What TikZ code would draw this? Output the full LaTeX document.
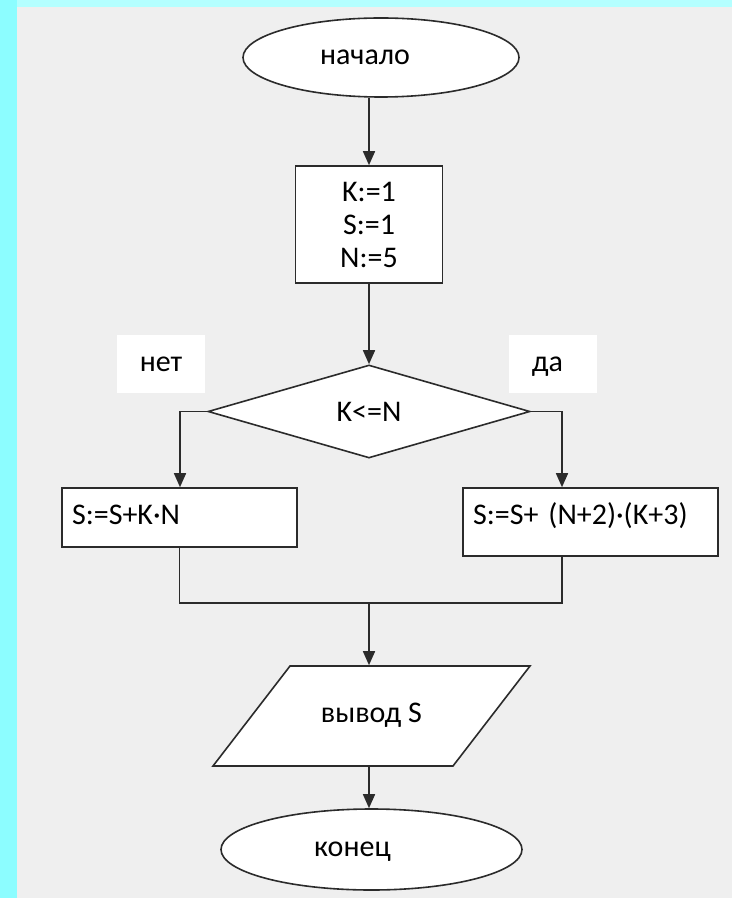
\documentclass[tikz,border=0pt]{standalone}
\usepackage{fontspec}
\setmainfont{Carlito}
\usetikzlibrary{shapes.geometric,arrows.meta}
\definecolor{frame}{HTML}{8CFDFF}
\definecolor{frametop}{HTML}{B4FFFF}
\definecolor{sheet}{HTML}{EFEFEF}
\definecolor{ink}{HTML}{2B2B2B}

\begin{document}
\begin{tikzpicture}[x=0.5pt, y=-0.5pt, font=\fontsize{15}{16.5}\selectfont]
	\tikzset{terminal/.style = {draw=ink, ellipse, fill=white, inner sep=0pt,
	text height=10pt, text depth=3pt, line width=0.8pt},
	process/.style = {draw=ink, rectangle, fill=white, inner sep=0pt,
	line width=0.8pt},
	decision/.style = {draw=ink, diamond, fill=white, inner sep=0pt,
	line width=0.8pt},
	io/.style = {draw=ink, trapezium, trapezium left angle=52.4,
	trapezium right angle=127.6, trapezium stretches body=true, fill=white,
	inner sep=0pt, line width=0.8pt},
	answer/.style = {fill=white, inner sep=0pt, minimum width=44pt,
	minimum height=29pt, text height=10pt, text depth=3pt},
	wire/.style = {draw=ink, line width=0.8pt},
	flow/.style = {wire, -{Triangle[length=7pt, width=6pt]}}}
	
	\fill[frame] (0,0) rectangle (732,898);
	\fill[frametop] (17,0) rectangle (732,7);
	\fill[sheet] (17,7) rectangle (732,898);
	\useasboundingbox (0,0) rectangle (732,898);
	
	\node[terminal, minimum width=138pt, minimum height=39.5pt] (start)
	at (381, 57.5) {начало\kern16pt};
	\node[process, minimum width=73.5pt, minimum height=58.5pt,
	align=center] (init) at (369, 224.5) {K:=1\\S:=1\\N:=5};
	\node[answer] (no_label) at (161, 364) {нет};
	\node[answer] (yes_label) at (552.5, 364) {да\kern5pt};
	\node[decision, minimum width=161pt, minimum height=46.5pt] (check)
	at (369, 411.5) {K<=N};
	\node[process, text width=107.5pt, align=left, inner xsep=5pt,
	text height=18pt, text depth=11.5pt] (sum_no) at (179.5, 517.5)
	{S:=S+K·N};
	\node[process, text width=117.5pt, align=left, inner xsep=5pt,
	text height=18pt, text depth=16pt] (sum_yes) at (590.5, 522)
	{S:=S+ (N+2)·(K+3)};
	\node[io, minimum width=158.5pt, text height=28pt, text depth=22pt]
	(output) at (371.5, 716) {вывод S};
	\node[terminal, minimum width=150.5pt, minimum height=40.5pt] (stop)
	at (371.5, 849.5) {конец\kern19pt};
	
	\coordinate (no_turn) at (180, 411.5);
	\coordinate (yes_turn) at (562, 411.5);
	\coordinate (join) at (369, 603);
	
	\draw[flow] (start.south -| init.north) -- (init.north);
	\draw[flow] (init.south) -- (check.north);
	\draw[flow] (check.west) -- (no_turn) -- (no_turn |- sum_no.north);
	\draw[flow] (check.east) -- (yes_turn) -- (yes_turn |- sum_yes.north);
	\draw[wire] (sum_no.south) |- (join);
	\draw[wire] (yes_turn |- sum_yes.south) |- (join);
	\draw[flow] (join) -- (join |- output.north);
	\draw[flow] (output.south -| join) -- (join |- stop.north);
\end{tikzpicture}
\end{document}
